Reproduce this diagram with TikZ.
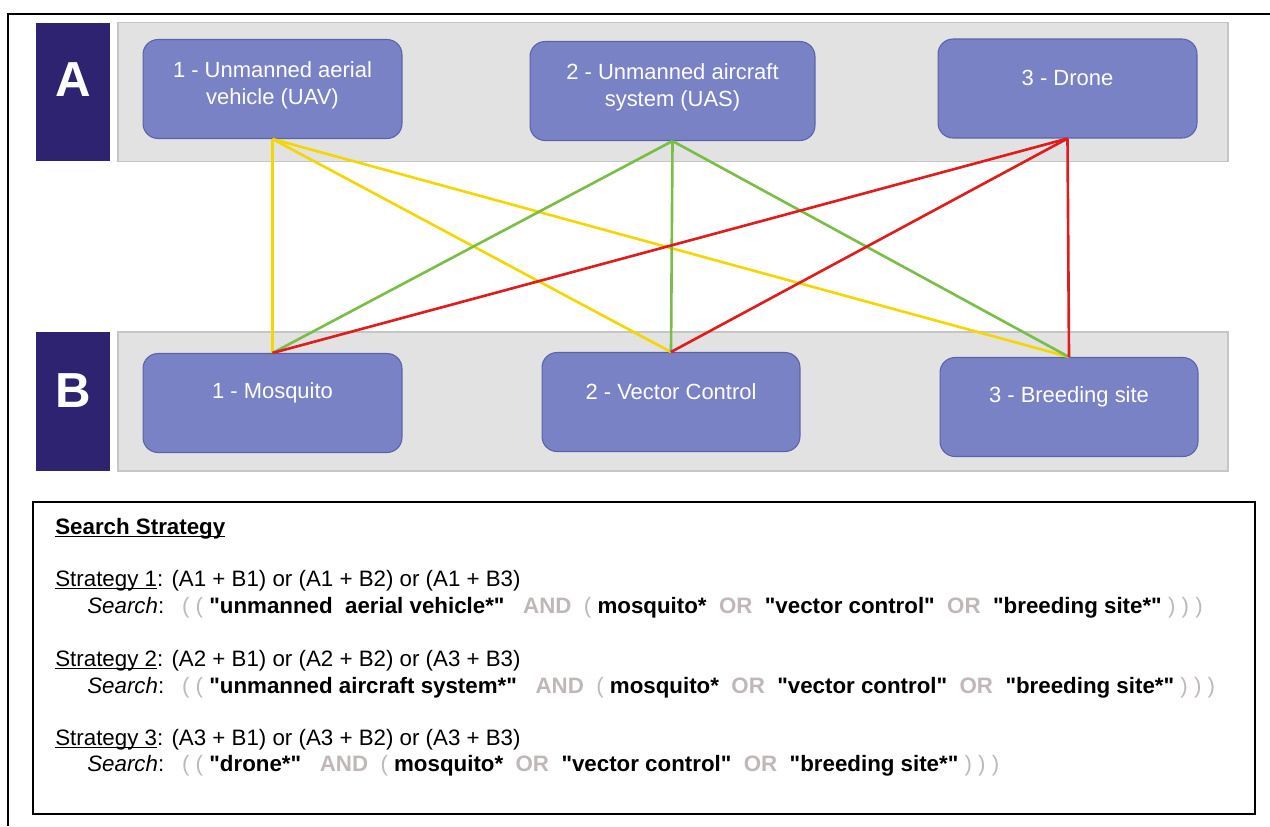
\documentclass[tikz,border=0pt]{standalone}
\usepackage{fontspec}
\setmainfont{Liberation Sans}
\definecolor{boxblue}{RGB}{122,130,198}
\definecolor{boxedge}{RGB}{92,98,170}
\definecolor{tagblue}{RGB}{45,35,112}
\definecolor{bandgray}{RGB}{226,226,226}
\definecolor{bandedge}{RGB}{198,198,198}
\definecolor{lnyellow}{RGB}{245,214,0}
\definecolor{lngreen}{RGB}{122,190,72}
\definecolor{lnred}{RGB}{224,28,28}
\definecolor{opgray}{RGB}{192,184,184}
\newcommand{\opw}[1]{\textcolor{opgray}{\textbf{#1}}}
\newcommand{\parw}[1]{\textcolor{opgray}{#1}}
\newcommand{\trm}[1]{\textbf{\textquotedbl#1\textquotedbl}}
\newcommand{\uln}[1]{\setbox0\hbox{#1}\rlap{\rule[-1.9pt]{\wd0}{0.7pt}}\box0}
\tikzset{
  band/.style={draw=bandedge,fill=bandgray,line width=0.8pt,minimum width=22.2cm,minimum height=2.78cm,inner sep=0pt},
  tag/.style={fill=tagblue,minimum width=1.48cm,minimum height=2.78cm,inner sep=0pt},
  tagtxt/.style={text=white,inner sep=0pt,font=\fontsize{28}{30}\selectfont\bfseries},
  termbox/.style={draw=boxedge,fill=boxblue,rounded corners=0.3cm,line width=0.6pt,inner sep=0pt,minimum height=1.98cm},
  termtxt/.style={text=white,align=center,inner sep=0pt,font=\fontsize{12.5}{15.3}\selectfont},
  link/.style={line width=1.5pt},
  strat/.style={anchor=base west,inner sep=0pt,font=\fontsize{12.7}{15}\selectfont}
}
\begin{document}
\begin{tikzpicture}[x=0.02cm,y=-0.02cm]

	\useasboundingbox (0,0) rectangle (1270,826);
	\draw[line width=1.4pt] (8,826) -- (8,14) -- (1270,14);

	% rows A and B
	\node[band] (bandA) at (673,92) {};
	\node[band] (bandB) at (673,401.5) {};
	\node[tag] (tagA) at (73,92) {};
	\node[tag] (tagB) at (73,401.5) {};
	\node[tagtxt] (letA) at (73,80) {A};
	\node[tagtxt] (letB) at (73,391) {B};

	\node[termbox,minimum width=5.18cm] (a1) at (272.5,89) {};
	\node[termbox,minimum width=5.7cm] (a2) at (672.5,91) {};
	\node[termbox,minimum width=5.18cm] (a3) at (1067.5,88.5) {};
	\node[termbox,minimum width=5.18cm] (b1) at (272.5,403) {};
	\node[termbox,minimum width=5.16cm] (b2) at (671,402) {};
	\node[termbox,minimum width=5.16cm] (b3) at (1069,407) {};

	\node[termtxt] (a1t) at (272.5,85) {1 - Unmanned aerial\\vehicle (UAV)};
	\node[termtxt] (a2t) at (672.5,87) {2 - Unmanned aircraft\\system (UAS)};
	\node[termtxt] (a3t) at (1067.5,78) {3 - Drone};
	\node[termtxt] (b1t) at (272.5,393) {1 - Mosquito};
	\node[termtxt] (b2t) at (671,392) {2 - Vector Control};
	\node[termtxt] (b3t) at (1069,397) {3 - Breeding site};

	% combinations
	\draw[link,lnyellow] (a1.south) -- (b1.north);
	\draw[link,lnyellow] (a1.south) -- (b2.north);
	\draw[link,lnyellow] (a1.south) -- (b3.north);
	\draw[link,lngreen] (a2.south) -- (b1.north);
	\draw[link,lngreen] (a2.south) -- (b2.north);
	\draw[link,lngreen] (a2.south) -- (b3.north);
	\draw[link,lnred] (a3.south) -- (b1.north);
	\draw[link,lnred] (a3.south) -- (b2.north);
	\draw[link,lnred] (a3.south) -- (b3.north);

	% search strategy
	\draw[line width=1.4pt] (33,502) rectangle (1255,814);
	\node[strat] (head) at (55,534) {\textbf{\uln{Search Strategy}}};

	\node[strat] (st1) at (55,586) {\uln{Strategy 1}: (A1 + B1) or (A1 + B2) or (A1 + B3)};
	\node[strat] (sr1) at (87,613) {\textit{Search}:\hspace{0.8em}\parw{( (}\ \trm{unmanned\ \ aerial vehicle*}\ \ \ \opw{AND}\ \ \parw{(}\ \textbf{mosquito*}\ \ \opw{OR}\ \ \trm{vector control}\ \ \opw{OR}\ \ \trm{breeding site*}\ \parw{) ) )}};

	\node[strat] (st2) at (55,666) {\uln{Strategy 2}: (A2 + B1) or (A2 + B2) or (A3 + B3)};
	\node[strat] (sr2) at (87,693) {\textit{Search}:\hspace{0.8em}\parw{( (}\ \trm{unmanned aircraft system*}\ \ \ \opw{AND}\ \ \parw{(}\ \textbf{mosquito*}\ \ \opw{OR}\ \ \trm{vector control}\ \ \opw{OR}\ \ \trm{breeding site*}\ \parw{) ) )}};

	\node[strat] (st3) at (55,745) {\uln{Strategy 3}: (A3 + B1) or (A3 + B2) or (A3 + B3)};
	\node[strat] (sr3) at (87,771) {\textit{Search}:\hspace{0.8em}\parw{( (}\ \trm{drone*}\ \ \ \opw{AND}\ \ \parw{(}\ \textbf{mosquito*}\ \ \opw{OR}\ \ \trm{vector control}\ \ \opw{OR}\ \ \trm{breeding site*}\ \parw{) ) )}};

\end{tikzpicture}
\end{document}
